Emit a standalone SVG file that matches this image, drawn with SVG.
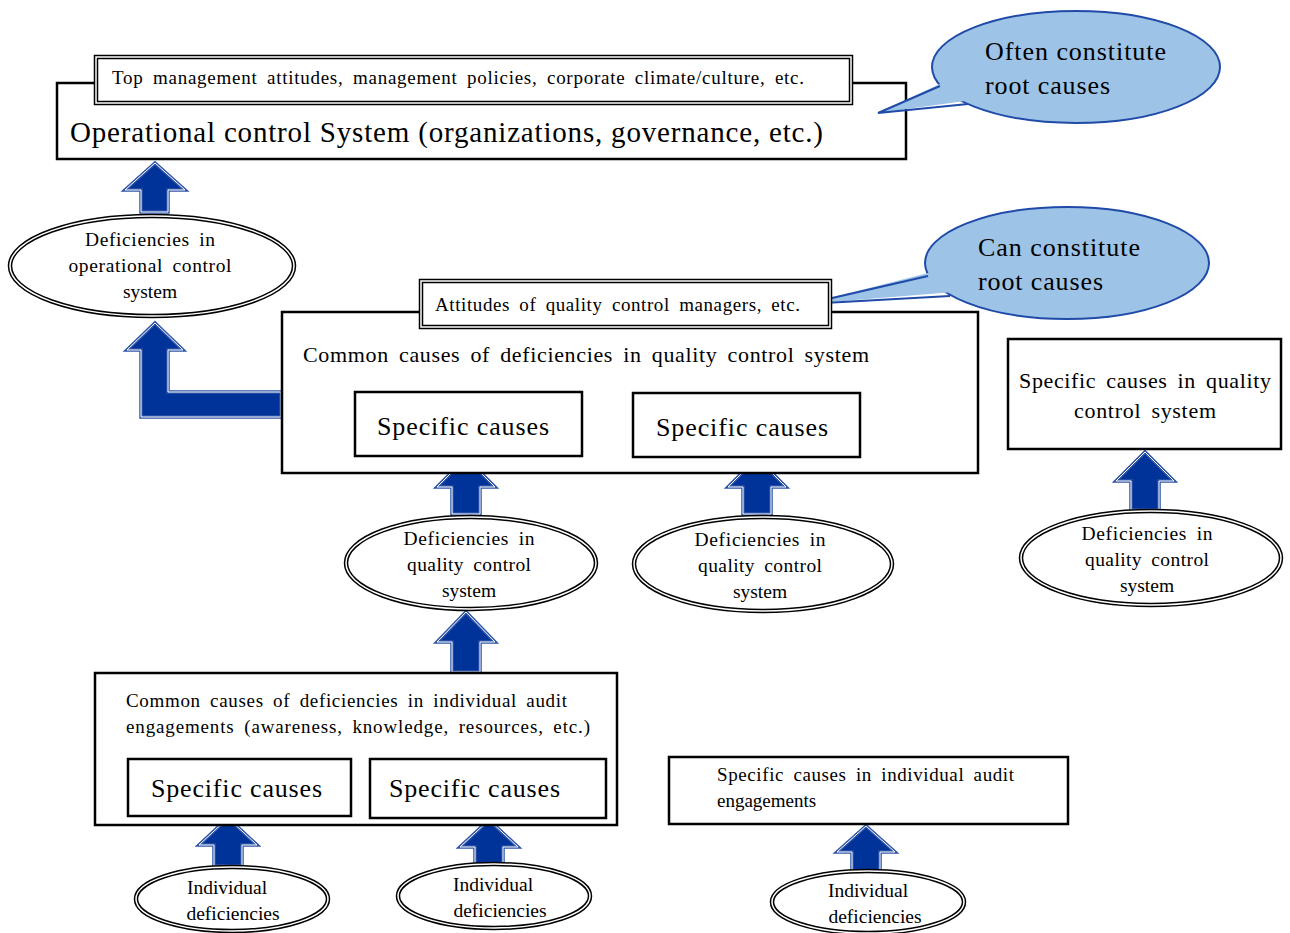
<svg xmlns="http://www.w3.org/2000/svg" width="1290" height="933" viewBox="0 0 1290 933">
<style>
text{font-family:"Liberation Serif","Times New Roman",serif;fill:#000}
.ws{word-spacing:4px}
.box{fill:#fff;stroke:#000;stroke-width:2.5}
.dbl{fill:#fff;stroke:#000;stroke-width:4.5}
.dblw{fill:none;stroke:#fff;stroke-width:1.5}
.arr{fill:#003399;stroke:#2E54A8;stroke-width:3.5;stroke-linejoin:miter}
.arrw{fill:none;stroke:#fff;stroke-width:1}
.call{fill:#9DC3E6;stroke:#1F4AA8;stroke-width:2}
.callf{fill:#9DC3E6;stroke:none}
.s19{font-size:19px}
.s20{font-size:19.5px}
.s22{font-size:22px}
.s26{font-size:26px}
.s29{font-size:29px}
</style>
<defs>
<path id="a1" d="M155,163 L185,190 L168,190 L168,212 L141,212 L141,190 L125,190 Z"/>
<path id="aL" d="M155,323 L183,350 L168,350 L168,392 L281,392 L281,417 L141,417 L141,350 L127,350 Z"/>
<path id="a2" d="M466,458 L495,487 L480,487 L480,514 L452,514 L452,487 L437,487 Z"/>
<path id="a3" d="M466,612 L495,642 L480,642 L480,672 L452,672 L452,642 L437,642 Z"/>
<path id="a4" d="M757,458 L786,487 L771,487 L771,514 L743,514 L743,487 L728,487 Z"/>
<path id="a5" d="M1145,452 L1174,481 L1159,481 L1159,510 L1131,510 L1131,481 L1116,481 Z"/>
<path id="a6" d="M228,818 L257,845 L242,845 L242,866 L214,866 L214,845 L199,845 Z"/>
<path id="a7" d="M489,820 L518,847 L503,847 L503,866 L475,866 L475,847 L460,847 Z"/>
<path id="a8" d="M866,826 L895,852 L880,852 L880,872 L852,872 L852,852 L837,852 Z"/>
</defs>

<g id="connectors">
<use href="#a1" class="arr"/><use href="#a1" class="arrw"/>
<use href="#aL" class="arr"/><use href="#aL" class="arrw"/>
<use href="#a2" class="arr"/><use href="#a2" class="arrw"/>
<use href="#a3" class="arr"/><use href="#a3" class="arrw"/>
<use href="#a4" class="arr"/><use href="#a4" class="arrw"/>
<use href="#a5" class="arr"/><use href="#a5" class="arrw"/>
<use href="#a6" class="arr"/><use href="#a6" class="arrw"/>
<use href="#a7" class="arr"/><use href="#a7" class="arrw"/>
<use href="#a8" class="arr"/><use href="#a8" class="arrw"/>
</g>

<g id="operational-box">
<rect class="box" x="57" y="83" width="849" height="76"/>
<text class="s29" x="70" y="142" textLength="753" lengthAdjust="spacing">Operational control System (organizations, governance, etc.)</text>
</g>
<g id="top-management">
<rect class="dbl" x="96" y="57" width="755" height="46"/>
<rect class="dblw" x="96" y="57" width="755" height="46"/>
<text class="s19 ws" x="112" y="84" textLength="692" lengthAdjust="spacing">Top management attitudes, management policies, corporate climate/culture, etc.</text>
</g>

<g id="callout-often">
<ellipse class="call" cx="1076" cy="67" rx="144" ry="56"/>
<polygon class="callf" points="944,82 878,113 972,100"/>
<polyline points="940,86 878,113 968,104" fill="none" stroke="#1F4AA8" stroke-width="2" stroke-linejoin="miter"/>
<text class="s26" x="985" y="60" textLength="181" lengthAdjust="spacing">Often constitute</text>
<text class="s26" x="985" y="94" textLength="125" lengthAdjust="spacing">root causes</text>
</g>

<g id="ell-operational">
<ellipse class="dbl" cx="152" cy="266" rx="142" ry="50"/>
<ellipse class="dblw" cx="152" cy="266" rx="142" ry="50"/>
<text class="s20 ws" x="150" y="246" text-anchor="middle" textLength="130" lengthAdjust="spacing">Deficiencies in</text>
<text class="s20 ws" x="150" y="272" text-anchor="middle" textLength="163" lengthAdjust="spacing">operational control</text>
<text class="s20" x="150" y="298" text-anchor="middle">system</text>
</g>

<g id="callout-can">
<ellipse class="call" cx="1067" cy="263" rx="142" ry="56"/>
<polygon class="callf" points="932,272 806,304 954,292"/>
<polyline points="928,276 806,304 950,296" fill="none" stroke="#1F4AA8" stroke-width="2" stroke-linejoin="miter"/>
<text class="s26" x="978" y="256" textLength="162" lengthAdjust="spacing">Can constitute</text>
<text class="s26" x="978" y="290" textLength="125" lengthAdjust="spacing">root causes</text>
</g>

<g id="qc-common">
<rect class="box" x="282" y="312" width="696" height="161"/>
<text class="s22 ws" x="303" y="362" textLength="566" lengthAdjust="spacing">Common causes of deficiencies in quality control system</text>
</g>
<g id="qc-attitudes">
<rect class="dbl" x="421" y="281" width="409" height="46"/>
<rect class="dblw" x="421" y="281" width="409" height="46"/>
<text class="s19 ws" x="435" y="311" textLength="365" lengthAdjust="spacing">Attitudes of quality control managers, etc.</text>
</g>
<g id="qc-specific-1">
<rect class="box" x="355" y="392" width="227" height="64"/>
<text class="s26" x="377" y="435" textLength="172" lengthAdjust="spacing">Specific causes</text>
</g>
<g id="qc-specific-2">
<rect class="box" x="633" y="393" width="227" height="64"/>
<text class="s26" x="656" y="436" textLength="172" lengthAdjust="spacing">Specific causes</text>
</g>

<g id="qc-specific-right">
<rect class="box" x="1008" y="339" width="273" height="110"/>
<text class="s22 ws" x="1145" y="388" text-anchor="middle" textLength="252" lengthAdjust="spacing">Specific causes in quality</text>
<text class="s22 ws" x="1145" y="418" text-anchor="middle" textLength="142" lengthAdjust="spacing">control system</text>
</g>

<g id="ell-qc-1">
<ellipse class="dbl" cx="471" cy="563" rx="125" ry="46"/>
<ellipse class="dblw" cx="471" cy="563" rx="125" ry="46"/>
<text class="s20 ws" x="469" y="545" text-anchor="middle" textLength="131" lengthAdjust="spacing">Deficiencies in</text>
<text class="s20 ws" x="469" y="571" text-anchor="middle" textLength="124" lengthAdjust="spacing">quality control</text>
<text class="s20" x="469" y="597" text-anchor="middle">system</text>
</g>
<g id="ell-qc-2">
<ellipse class="dbl" cx="763" cy="564" rx="129" ry="47"/>
<ellipse class="dblw" cx="763" cy="564" rx="129" ry="47"/>
<text class="s20 ws" x="760" y="546" text-anchor="middle" textLength="131" lengthAdjust="spacing">Deficiencies in</text>
<text class="s20 ws" x="760" y="572" text-anchor="middle" textLength="124" lengthAdjust="spacing">quality control</text>
<text class="s20" x="760" y="598" text-anchor="middle">system</text>
</g>
<g id="ell-qc-3">
<ellipse class="dbl" cx="1151" cy="558" rx="130" ry="47"/>
<ellipse class="dblw" cx="1151" cy="558" rx="130" ry="47"/>
<text class="s20 ws" x="1147" y="540" text-anchor="middle" textLength="131" lengthAdjust="spacing">Deficiencies in</text>
<text class="s20 ws" x="1147" y="566" text-anchor="middle" textLength="124" lengthAdjust="spacing">quality control</text>
<text class="s20" x="1147" y="592" text-anchor="middle">system</text>
</g>

<g id="audit-common">
<rect class="box" x="95" y="673" width="522" height="152"/>
<text class="s19 ws" x="126" y="707" textLength="441" lengthAdjust="spacing">Common causes of deficiencies in individual audit</text>
<text class="s19 ws" x="126" y="733" textLength="464" lengthAdjust="spacing">engagements (awareness, knowledge, resources, etc.)</text>
</g>
<g id="audit-specific-1">
<rect class="box" x="128" y="759" width="223" height="57"/>
<text class="s26" x="151" y="797" textLength="171" lengthAdjust="spacing">Specific causes</text>
</g>
<g id="audit-specific-2">
<rect class="box" x="370" y="759" width="236" height="59"/>
<text class="s26" x="389" y="797" textLength="171" lengthAdjust="spacing">Specific causes</text>
</g>

<g id="audit-specific-right">
<rect class="box" x="669" y="757" width="399" height="67"/>
<text class="s19 ws" x="717" y="781" textLength="297" lengthAdjust="spacing">Specific causes in individual audit</text>
<text class="s19" x="717" y="807">engagements</text>
</g>

<g id="ell-ind-1">
<ellipse class="dbl" cx="232" cy="899" rx="96" ry="32"/>
<ellipse class="dblw" cx="232" cy="899" rx="96" ry="32"/>
<text class="s20" x="227" y="894" text-anchor="middle">Individual</text>
<text class="s20" x="233" y="920" text-anchor="middle">deficiencies</text>
</g>
<g id="ell-ind-2">
<ellipse class="dbl" cx="494" cy="896" rx="96" ry="32"/>
<ellipse class="dblw" cx="494" cy="896" rx="96" ry="32"/>
<text class="s20" x="493" y="891" text-anchor="middle">Individual</text>
<text class="s20" x="500" y="917" text-anchor="middle">deficiencies</text>
</g>
<g id="ell-ind-3">
<ellipse class="dbl" cx="868" cy="902" rx="96" ry="31"/>
<ellipse class="dblw" cx="868" cy="902" rx="96" ry="31"/>
<text class="s20" x="868" y="897" text-anchor="middle">Individual</text>
<text class="s20" x="875" y="923" text-anchor="middle">deficiencies</text>
</g>
</svg>
